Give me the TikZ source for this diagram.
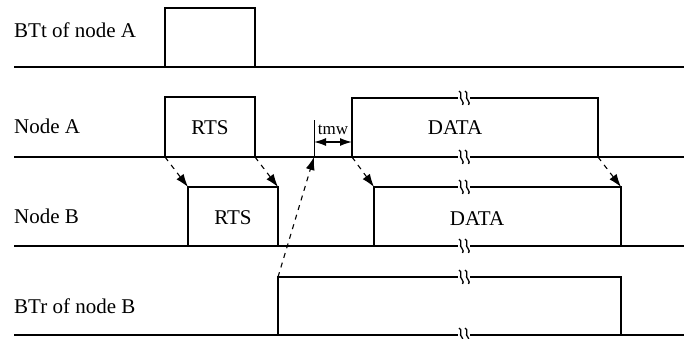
\documentclass[tikz,border=0pt]{standalone}
\usepackage{fontspec}
\setmainfont{Liberation Serif}
\usetikzlibrary{arrows.meta,positioning}

\begin{document}
\begin{tikzpicture}[
    x=1pt, y=-1pt,
    every node/.style={font=\fontsize{21}{25}\selectfont},
    rowlabel/.style={anchor=base west, inner sep=0},
    frame/.style={inner sep=0, anchor=base},
    sig/.style={line width=1.4pt},
    pulse/.style={line width=1.2pt},
    relay/.style={-{Latex[length=13pt,width=9pt]}, dash pattern=on 5pt off 5pt, line width=1.1pt},
    gap/.style={{Latex[length=12pt,width=8pt]}-{Latex[length=12pt,width=8pt]}, line width=1.3pt},
    brk/.pic={
      \fill[white] (-6,-3) rectangle (6,3);
      \draw[line width=1.3pt] (-5,-7) .. controls (-1,-5.5) and (-5.5,0) .. (-2,2.5) .. controls (0,4) and (-1,6) .. (-1.5,7);
      \draw[line width=1.3pt] (1,-7) .. controls (5,-5.5) and (0.5,0) .. (4,2.5) .. controls (6,4) and (5,6) .. (4.5,7);
    }
  ]
    \useasboundingbox (0,0) rectangle (684,339);

    % row labels
    \node[rowlabel] (lbta) at (14,38) {BTt of node A};
    \node[rowlabel] (lna) at (14,134) {Node A};
    \node[rowlabel] (lnb) at (14,223) {Node B};
    \node[rowlabel] (lbtr) at (14,313) {BTr of node B};

    % base lines
    \draw[sig] (14,67) -- (684,67);
    \draw[sig] (14,157) -- (684,157);
    \draw[sig] (14,246) -- (684,246);
    \draw[sig] (14,335) -- (684,335);

    % BTt of node A
    \draw[pulse] (165,67) -- (165,8) -- (255,8) -- (255,67);

    % Node A
    \coordinate (rtsa0) at (165,157);
    \coordinate (rtsa1) at (255,157);
    \coordinate (data0) at (352,157);
    \coordinate (data1) at (598,157);
    \draw[pulse] (rtsa0) |- (210,97) -| (rtsa1);
    \node[frame] (rtsa) at (210,135) {RTS};
    \draw[pulse] (data0) |- (475,98) -| (data1);
    \node[frame] (dataa) at (455,135) {DATA};

    % Node B
    \coordinate (rtsb0) at (188,187);
    \coordinate (rtsb1) at (278,187);
    \coordinate (datb0) at (374,187);
    \coordinate (datb1) at (621,187);
    \draw[pulse] (188,246) -- (rtsb0) -- (rtsb1) -- (278,246);
    \node[frame] (rtsb) at (233,224) {RTS};
    \draw[pulse] (374,246) -- (datb0) -- (datb1) -- (621,246);
    \node[frame] (datab) at (477,225) {DATA};

    % BTr of node B
    \coordinate (btr0) at (278,277);
    \draw[pulse] (278,335) -- (btr0) -- (621,277) -- (621,335);

    % tmw
    \coordinate (tmw0) at (314,157);
    \draw[line width=0.9pt] (tmw0) -- (314,120);
    \draw[gap] (314,142) -- (352,142);
    \node[frame, font=\fontsize{17}{20}\selectfont] (tmw) at (333,135) {tmw};

    % propagation
    \draw[relay] (rtsa0) -- (rtsb0);
    \draw[relay] (rtsa1) -- (rtsb1);
    \draw[relay] (data0) -- (datb0);
    \draw[relay] (data1) -- (datb1);
    \draw[relay] (btr0) -- (tmw0);

    % breaks
    \foreach \yy in {98,157,187,246,277,335}
      \pic at (464,\yy) {brk};
\end{tikzpicture}
\end{document}
